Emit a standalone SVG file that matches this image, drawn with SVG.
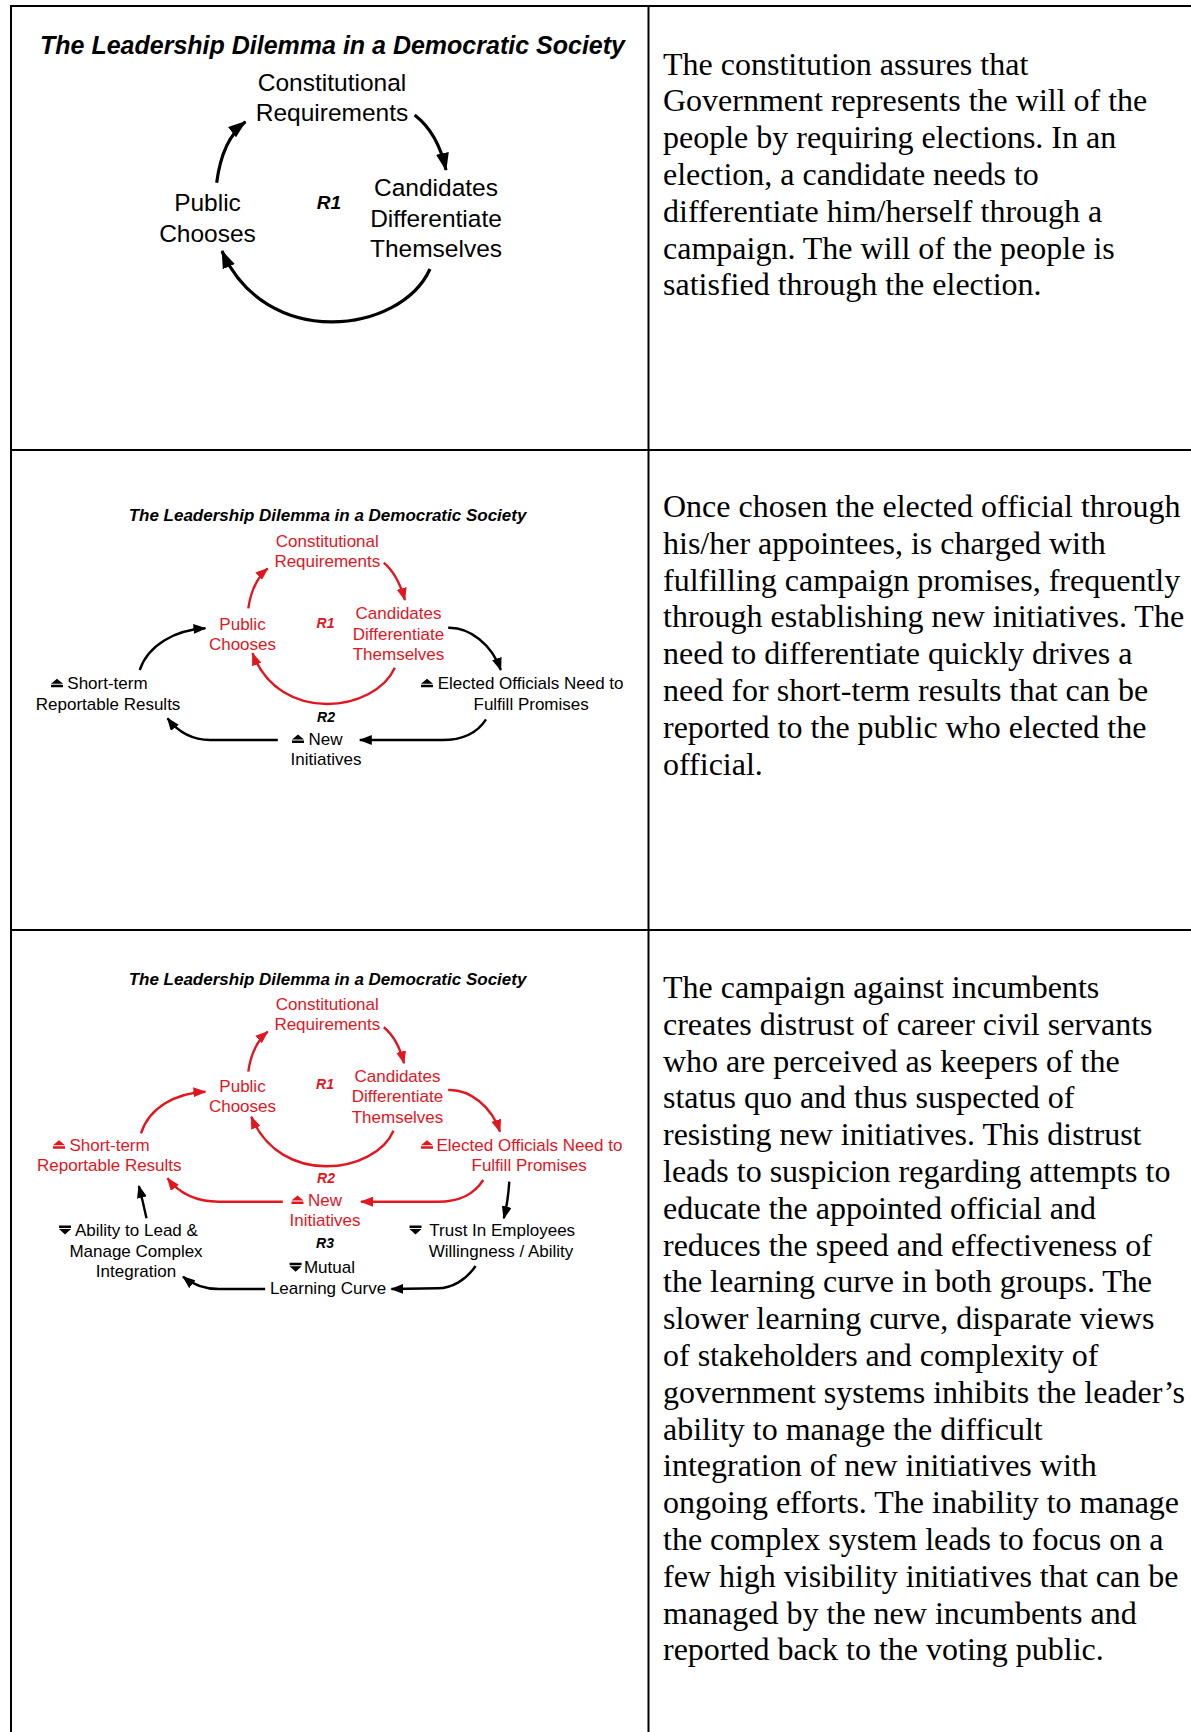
<svg xmlns="http://www.w3.org/2000/svg" xmlns:xlink="http://www.w3.org/1999/xlink" width="1191" height="1732" viewBox="0 0 1191 1732">
  <style>
    .grid { stroke: #000; stroke-width: 2; fill: none; }
    .body { font-family: "Liberation Serif", "Times New Roman", serif; font-size: 32px; fill: #000; }
    .lab { font-family: "Liberation Sans", Arial, sans-serif; fill: #000; }
    .lg { font-size: 24.5px; }
    .sm { font-size: 17px; }
    .ttl { font-weight: bold; font-style: italic; }
    .mid { text-anchor: middle; }
    .red { fill: #e2161f; }
    .wire { fill: none; stroke: #000; stroke-width: 2.4; }
    .wire.big { stroke-width: 3.2; }
    .wire.r { stroke: #e2161f; }
  </style>
  <defs>
    <marker id="headBig" markerUnits="userSpaceOnUse" viewBox="0 0 18 13" markerWidth="18" markerHeight="13" refX="17" refY="6.5" orient="auto">
      <path d="M0,0 L18,6.5 L0,13 z" fill="#000"/>
    </marker>
    <marker id="headK" markerUnits="userSpaceOnUse" viewBox="0 0 13 10" markerWidth="13" markerHeight="10" refX="12" refY="5" orient="auto">
      <path d="M0,0 L13,5 L0,10 z" fill="#000"/>
    </marker>
    <marker id="headR" markerUnits="userSpaceOnUse" viewBox="0 0 13 10" markerWidth="13" markerHeight="10" refX="12" refY="5" orient="auto">
      <path d="M0,0 L13,5 L0,10 z" fill="#e2161f"/>
    </marker>
    <!-- rise / fall indicators, origin at the text baseline -->
    <path id="rise" d="M0,-5.5 L6,-10.5 L12,-5.5 z M0,-4.5 h12 v2.5 h-12 z"/>
    <path id="fall" d="M0,-10.5 h12 v2.5 h-12 z M0,-7 h12 L6,-1.5 z"/>
  </defs>

  <rect width="1191" height="1732" fill="#fff"/>

  <!-- table rules -->
  <g id="table" class="grid">
    <line x1="11" y1="6" x2="1191" y2="6"/>
    <line x1="11" y1="5" x2="11" y2="1732"/>
    <line x1="648.5" y1="5" x2="648.5" y2="1732"/>
    <line x1="11" y1="450" x2="1191" y2="450"/>
    <line x1="11" y1="930" x2="1191" y2="930"/>
  </g>

  <!-- ===== Row 1: core loop ===== -->
  <g id="d1">
    <text id="d1-title" class="lab ttl mid" x="332.5" y="53.5" font-size="25">The Leadership Dilemma in a Democratic Society</text>
    <g id="d1-constitutional" class="lab lg mid">
      <text x="332" y="90.5">Constitutional</text>
      <text x="332" y="120.5">Requirements</text>
    </g>
    <g id="d1-candidates" class="lab lg mid">
      <text x="436" y="196">Candidates</text>
      <text x="436" y="226.5">Differentiate</text>
      <text x="436" y="257">Themselves</text>
    </g>
    <g id="d1-public" class="lab lg mid">
      <text x="207.5" y="211">Public</text>
      <text x="207.5" y="241.5">Chooses</text>
    </g>
    <text id="d1-r1" class="lab ttl mid" x="329" y="209" font-size="19">R1</text>
    <g id="d1-links">
      <path class="wire big" marker-end="url(#headBig)" d="M216.7,182.7 Q222,140 245.4,121.7"/>
      <path class="wire big" marker-end="url(#headBig)" d="M414.6,115 Q438,133 446,170"/>
      <path class="wire big" marker-end="url(#headBig)" d="M430,269 C400,335 265,350 222,251"/>
    </g>
  </g>

  <!-- ===== Row 2: adding the promises loop ===== -->
  <g id="d2">
    <text id="d2-title" class="lab ttl sm mid" x="327.5" y="521">The Leadership Dilemma in a Democratic Society</text>
    <g id="d2-constitutional" class="lab sm mid red">
      <text x="327.3" y="546.7">Constitutional</text>
      <text x="327.3" y="567">Requirements</text>
    </g>
    <g id="d2-candidates" class="lab sm mid red">
      <text x="398.5" y="619">Candidates</text>
      <text x="398.5" y="639.5">Differentiate</text>
      <text x="398.5" y="660">Themselves</text>
    </g>
    <g id="d2-public" class="lab sm mid red">
      <text x="242.5" y="629.5">Public</text>
      <text x="242.5" y="649.5">Chooses</text>
    </g>
    <text id="d2-r1" class="lab ttl mid red" x="325.5" y="627.5" font-size="14">R1</text>
    <text id="d2-r2" class="lab ttl mid" x="326" y="721.7" font-size="14">R2</text>
    <g id="d2-elected" class="lab sm">
      <use href="#rise" x="421" y="689.3"/>
      <text x="437.7" y="689.3">Elected Officials Need to</text>
      <text x="473.5" y="709.5">Fulfill Promises</text>
    </g>
    <g id="d2-new" class="lab sm">
      <use href="#rise" x="292" y="745"/>
      <text x="308.5" y="745">New</text>
      <text x="326" y="765" text-anchor="middle">Initiatives</text>
    </g>
    <g id="d2-shortterm" class="lab sm">
      <use href="#rise" x="51" y="689.3"/>
      <text x="67.3" y="689.3">Short-term</text>
      <text x="35.8" y="709.5">Reportable Results</text>
    </g>
    <g id="d2-links">
      <path class="wire r" marker-end="url(#headR)" d="M248.3,608.3 Q252,582 267.7,568.3"/>
      <path class="wire r" marker-end="url(#headR)" d="M383.8,562.7 Q398,575 404.9,600"/>
      <path class="wire r" marker-end="url(#headR)" d="M394.8,667.7 C375,712 280,725 252.5,653.3"/>
      <path class="wire" marker-end="url(#headK)" d="M448.2,627.7 C470,627 492,645 500.8,670"/>
      <path class="wire" marker-end="url(#headK)" d="M486,719.3 C476,735 460,740 442,740 L359.8,740"/>
      <path class="wire" marker-end="url(#headK)" d="M277.8,740 L210.4,740 C192,740 178,732 167.5,718.3"/>
      <path class="wire" marker-end="url(#headK)" d="M139.7,670 C148,645 175,630 205.4,628.3"/>
    </g>
  </g>

  <!-- ===== Row 3: adding the learning loop ===== -->
  <g id="d3" transform="translate(0,462)">
    <text id="d3-title" class="lab ttl sm mid" x="327.5" y="523">The Leadership Dilemma in a Democratic Society</text>
    <g id="d3-constitutional" class="lab sm mid red">
      <text x="327.3" y="548">Constitutional</text>
      <text x="327.3" y="568">Requirements</text>
    </g>
    <g id="d3-candidates" class="lab sm mid red">
      <text x="397.5" y="619.7">Candidates</text>
      <text x="397.5" y="640.3">Differentiate</text>
      <text x="397.5" y="660.7">Themselves</text>
    </g>
    <g id="d3-public" class="lab sm mid red">
      <text x="242.5" y="630.3">Public</text>
      <text x="242.5" y="650.3">Chooses</text>
    </g>
    <text id="d3-r1" class="lab ttl mid red" x="325" y="627.3" font-size="14">R1</text>
    <text id="d3-r2" class="lab ttl mid red" x="326" y="721.3" font-size="14">R2</text>
    <text id="d3-r3" class="lab ttl mid" x="325" y="786.3" font-size="14">R3</text>
    <g id="d3-elected" class="lab sm red">
      <use href="#rise" x="421" y="688.7"/>
      <text x="436.5" y="688.7">Elected Officials Need to</text>
      <text x="471.5" y="709">Fulfill Promises</text>
    </g>
    <g id="d3-new" class="lab sm red">
      <use href="#rise" x="291.5" y="744"/>
      <text x="308" y="744">New</text>
      <text x="325" y="764" text-anchor="middle">Initiatives</text>
    </g>
    <g id="d3-shortterm" class="lab sm red">
      <use href="#rise" x="53" y="688.7"/>
      <text x="69.4" y="688.7">Short-term</text>
      <text x="37" y="709">Reportable Results</text>
    </g>
    <g id="d3-ability" class="lab sm">
      <use href="#fall" x="59" y="774"/>
      <text x="75" y="774">Ability to Lead &amp;</text>
      <text x="136" y="794.7" text-anchor="middle">Manage Complex</text>
      <text x="136" y="815.3" text-anchor="middle">Integration</text>
    </g>
    <g id="d3-trust" class="lab sm">
      <use href="#fall" x="409.5" y="774"/>
      <text x="429.3" y="774">Trust In Employees</text>
      <text x="501" y="794.7" text-anchor="middle">Willingness / Ability</text>
    </g>
    <g id="d3-mutual" class="lab sm">
      <use href="#fall" x="289.6" y="811.3"/>
      <text x="303.9" y="811.3">Mutual</text>
      <text x="328" y="832" text-anchor="middle">Learning Curve</text>
    </g>
    <g id="d3-links">
      <path class="wire r" marker-end="url(#headR)" d="M248.3,609.7 Q252,583 267.7,569.7"/>
      <path class="wire r" marker-end="url(#headR)" d="M383.8,565.3 Q398,577 404,601.3"/>
      <path class="wire r" marker-end="url(#headR)" d="M393.5,668.7 C375,712 280,725 251.3,654.7"/>
      <path class="wire r" marker-end="url(#headR)" d="M448.2,628 C470,627 492,645 500,669.7"/>
      <path class="wire r" marker-end="url(#headR)" d="M483.2,718 C473,734 458,739.7 437.7,739.7 L361,739.7"/>
      <path class="wire r" marker-end="url(#headR)" d="M282.8,739.7 L218.9,739.7 C195,739.7 178,730 167.5,716.3"/>
      <path class="wire r" marker-end="url(#headR)" d="M141,671.3 C149,646 175,631 205.4,629.7"/>
      <path class="wire" marker-end="url(#headK)" d="M146.5,756.3 Q143,740 138.9,724"/>
      <path class="wire" marker-end="url(#headK)" d="M509.3,719.7 Q508,740 503.8,756.3"/>
      <path class="wire" marker-end="url(#headK)" d="M475.6,804 C466,818 452,826.3 437.7,826.3 L391.4,827"/>
      <path class="wire" marker-end="url(#headK)" d="M265.2,827 L218.9,827 C205,827 192,822 183,814.7"/>
    </g>
  </g>

  <!-- ===== Right column: commentary ===== -->
  <g id="notes" class="body">
    <text id="note1" x="663">
      <tspan x="663" y="74.5">The constitution assures that</tspan>
      <tspan x="663" y="111.3">Government represents the will of the</tspan>
      <tspan x="663" y="148.1">people by requiring elections. In an</tspan>
      <tspan x="663" y="184.9">election, a candidate needs to</tspan>
      <tspan x="663" y="221.7">differentiate him/herself through a</tspan>
      <tspan x="663" y="258.5">campaign. The will of the people is</tspan>
      <tspan x="663" y="295.3">satisfied through the election.</tspan>
    </text>
    <text id="note2" x="663">
      <tspan x="663" y="517">Once chosen the elected official through</tspan>
      <tspan x="663" y="553.8">his/her appointees, is charged with</tspan>
      <tspan x="663" y="590.6">fulfilling campaign promises, frequently</tspan>
      <tspan x="663" y="627.4">through establishing new initiatives. The</tspan>
      <tspan x="663" y="664.2">need to differentiate quickly drives a</tspan>
      <tspan x="663" y="701">need for short-term results that can be</tspan>
      <tspan x="663" y="737.8">reported to the public who elected the</tspan>
      <tspan x="663" y="774.6">official.</tspan>
    </text>
    <text id="note3" x="663">
      <tspan x="663" y="998">The campaign against incumbents</tspan>
      <tspan x="663" y="1034.8">creates distrust of career civil servants</tspan>
      <tspan x="663" y="1071.6">who are perceived as keepers of the</tspan>
      <tspan x="663" y="1108.4">status quo and thus suspected of</tspan>
      <tspan x="663" y="1145.2">resisting new initiatives. This distrust</tspan>
      <tspan x="663" y="1182">leads to suspicion regarding attempts to</tspan>
      <tspan x="663" y="1218.8">educate the appointed official and</tspan>
      <tspan x="663" y="1255.6">reduces the speed and effectiveness of</tspan>
      <tspan x="663" y="1292.4">the learning curve in both groups. The</tspan>
      <tspan x="663" y="1329.2">slower learning curve, disparate views</tspan>
      <tspan x="663" y="1366">of stakeholders and complexity of</tspan>
      <tspan x="663" y="1402.8">government systems inhibits the leader’s</tspan>
      <tspan x="663" y="1439.6">ability to manage the difficult</tspan>
      <tspan x="663" y="1476.4">integration of new initiatives with</tspan>
      <tspan x="663" y="1513.2">ongoing efforts. The inability to manage</tspan>
      <tspan x="663" y="1550">the complex system leads to focus on a</tspan>
      <tspan x="663" y="1586.8">few high visibility initiatives that can be</tspan>
      <tspan x="663" y="1623.6">managed by the new incumbents and</tspan>
      <tspan x="663" y="1660.4">reported back to the voting public.</tspan>
    </text>
  </g>
</svg>
